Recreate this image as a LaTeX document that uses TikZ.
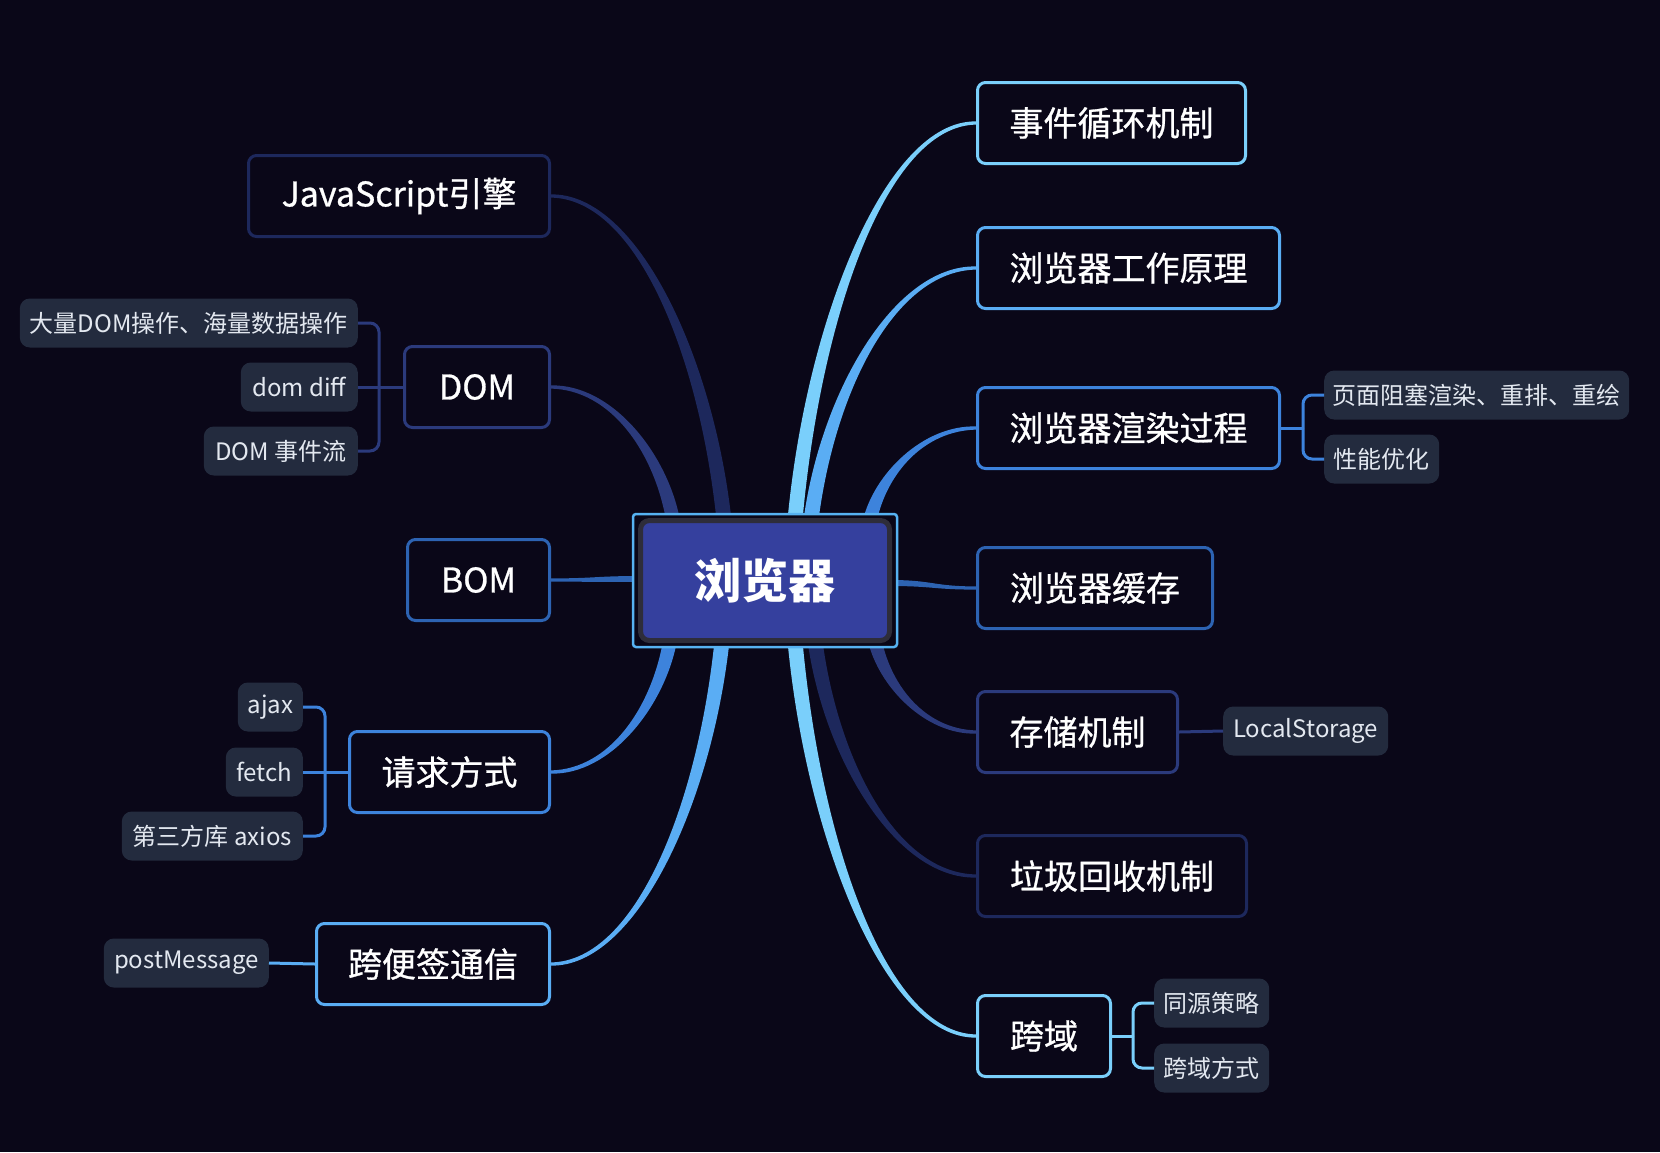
\documentclass[tikz,border=0pt]{standalone}
\usepackage{fontspec}
\setmainfont{Noto Sans CJK SC}
\usetikzlibrary{calc}
\definecolor{bg}{HTML}{0A0718}
\definecolor{cA}{HTML}{7ACFFB}
\definecolor{cB}{HTML}{5AADF4}
\definecolor{cC}{HTML}{3D83DC}
\definecolor{cD}{HTML}{2D63B2}
\definecolor{cE}{HTML}{2B3A7C}
\definecolor{cF}{HTML}{1D285C}
\definecolor{leaf}{HTML}{232B3E}
\definecolor{leaftext}{HTML}{E3E8F0}
\definecolor{framec}{HTML}{56B2F2}
\definecolor{rootring}{HTML}{2E2D3A}
\definecolor{rootfill}{HTML}{35409E}
% tapered branch: #1 start, #2 end, #3 colour, #4 start half-width, #5 sign
\newcommand\branchfill[5]{%
  \fill[#3] let \p1=(#1), \p2=(#2) in
    ({\x1-#4},\y1) .. controls ({\x1+0.1*(\x2-\x1)-0.95*#4},{\y1+0.5*(\y2-\y1)}) and ({\x2-0.5*(\x2-\x1)},{\y2+(#5)*3pt}) .. (\x2,{\y2+(#5)*1.6pt})
    -- (\x2,{\y2-(#5)*1.6pt}) .. controls ({\x2-0.5*(\x2-\x1)},{\y2-(#5)*3pt}) and ({\x1+0.1*(\x2-\x1)+0.95*#4},{\y1+0.5*(\y2-\y1)}) .. ({\x1+#4},\y1) -- cycle;}
% horizontal tapered branch
\newcommand\hbranchfill[4]{%
  \fill[#3] let \p1=(#1), \p2=(#2) in
    (\x1,{\y1+#4}) .. controls ({0.5*(\x1+\x2)},{\y1+#4}) and ({0.5*(\x1+\x2)},{\y2+1.6pt}) .. (\x2,{\y2+1.6pt})
    -- (\x2,{\y2-1.6pt}) .. controls ({0.5*(\x1+\x2)},{\y2-1.6pt}) and ({0.5*(\x1+\x2)},{\y1-#4}) .. (\x1,{\y1-#4}) -- cycle;}
\tikzset{
  mainbox/.style={draw=#1, line width=3pt, rounded corners=8pt, fill=bg, text=white,
    minimum height=81pt, inner sep=0pt, font=\fontsize{34pt}{40pt}\selectfont\addfontfeatures{FakeBold=0.8}},
  leafbox/.style={fill=leaf, rounded corners=10pt, text=leaftext, minimum height=49pt,
    inner sep=0pt, font=\fontsize{24pt}{28pt}\selectfont},
  brack/.style={draw=#1, line width=3pt},
}
\begin{document}
\begin{tikzpicture}[x=1pt,y=-1pt]
\useasboundingbox (0,0) rectangle (1660,1152);
\fill[bg] (0,0) rectangle (1660,1152);

% main nodes, right side
\node[mainbox=cA, minimum width=268, anchor=west] (ev) at (976,123) {事件循环机制};
\node[mainbox=cB, minimum width=302, anchor=west] (wk) at (976,268) {浏览器工作原理};
\node[mainbox=cC, minimum width=302, anchor=west] (rd) at (976,428) {浏览器渲染过程};
\node[mainbox=cD, minimum width=235, anchor=west] (ca) at (976,588) {浏览器缓存};
\node[mainbox=cE, minimum width=200, anchor=west] (st) at (976,732) {存储机制};
\node[mainbox=cF, minimum width=269, anchor=west] (gc) at (976,876) {垃圾回收机制};
\node[mainbox=cA, minimum width=133, anchor=west] (cd) at (976,1036) {跨域};
% main nodes, left side
\node[mainbox=cF, minimum width=301, anchor=east] (js) at (551,196) {JavaScript引擎};
\node[mainbox=cE, minimum width=145, anchor=east] (dom) at (551,387) {DOM};
\node[mainbox=cD, minimum width=142, anchor=east] (bom) at (551,580) {BOM};
\node[mainbox=cC, minimum width=200, anchor=east] (req) at (551,772) {请求方式};
\node[mainbox=cB, minimum width=233, anchor=east] (msg) at (551,964) {跨便签通信};

% leaf nodes
\node[leafbox, minimum width=338, anchor=east] (d1) at (358,323) {大量DOM操作、海量数据操作};
\node[leafbox, minimum width=117, anchor=east] (d2) at (358,387) {dom diff};
\node[leafbox, minimum width=154, anchor=east] (d3) at (358,451) {DOM 事件流};
\node[leafbox, minimum width=305, anchor=west] (r1) at (1324,395) {页面阻塞渲染、重排、重绘};
\node[leafbox, minimum width=115, anchor=west] (r2) at (1324,459) {性能优化};
\node[leafbox, minimum width=165, anchor=west] (ls) at (1223,731) {LocalStorage};
\node[leafbox, minimum width=65, anchor=east] (q1) at (303,707) {ajax};
\node[leafbox, minimum width=77, anchor=east] (q2) at (303,772) {fetch};
\node[leafbox, minimum width=181, anchor=east] (q3) at (303,836) {第三方库 axios};
\node[leafbox, minimum width=165, anchor=east] (pm) at (269,963) {postMessage};
\node[leafbox, minimum width=115, anchor=west] (x1) at (1154,1003) {同源策略};
\node[leafbox, minimum width=115, anchor=west] (x2) at (1154,1068) {跨域方式};

% start points on the central node
\coordinate (tdom) at (673,520);
\coordinate (tjs) at (724,520);
\coordinate (tev) at (795,520);
\coordinate (twk) at (811,520);
\coordinate (trd) at (870,520);
\coordinate (breq) at (670,641);
\coordinate (bmsg) at (722,641);
\coordinate (bcd) at (795,641);
\coordinate (bgc) at (815,641);
\coordinate (bst) at (875,641);
\coordinate (lbom) at (640,579);
\coordinate (rca) at (890,583);

% tapered branches
\branchfill{tjs}{js.east}{cF}{7.5pt}{-1}
\branchfill{tdom}{dom.east}{cE}{7pt}{-1}
\branchfill{tev}{ev.west}{cA}{7.5pt}{1}
\branchfill{twk}{wk.west}{cB}{7.5pt}{1}
\branchfill{trd}{rd.west}{cC}{7pt}{1}
\branchfill{breq}{req.east}{cC}{7pt}{1}
\branchfill{bmsg}{msg.east}{cB}{7.5pt}{1}
\branchfill{bcd}{cd.west}{cA}{7.5pt}{-1}
\branchfill{bgc}{gc.west}{cF}{7.5pt}{-1}
\branchfill{bst}{st.west}{cE}{7pt}{-1}
\hbranchfill{lbom}{bom.east}{cD}{3pt}
\hbranchfill{rca}{ca.west}{cD}{3pt}

% central node
\node[draw=framec, line width=2.5pt, fill=bg, rounded corners=3pt, minimum width=264, minimum height=133, inner sep=0pt] (frame) at (765,580.5) {};
\node[draw=rootring, line width=5pt, fill=rootfill, rounded corners=9pt, minimum width=249, minimum height=120, inner sep=0pt, text=white, font=\fontsize{47pt}{56pt}\selectfont\bfseries] (root) at (765,580.5) {浏览器};

% leaf brackets
\draw[brack=cE] (dom.west) -- ++(-24,0);
\draw[brack=cE, rounded corners=9pt] ($(dom.west)+(-24,0)$) |- (d1.east);
\draw[brack=cE] ($(dom.west)+(-24,0)$) -- (d2.east);
\draw[brack=cE, rounded corners=9pt] ($(dom.west)+(-24,0)$) |- (d3.east);
\draw[brack=cC] (rd.east) -- ++(22,0);
\draw[brack=cC, rounded corners=9pt] ($(rd.east)+(22,0)$) |- (r1.west);
\draw[brack=cC, rounded corners=9pt] ($(rd.east)+(22,0)$) |- (r2.west);
\draw[brack=cE] (st.east) -- (ls.west);
\draw[brack=cC] (req.west) -- ++(-23,0);
\draw[brack=cC, rounded corners=9pt] ($(req.west)+(-23,0)$) |- (q1.east);
\draw[brack=cC] ($(req.west)+(-23,0)$) -- (q2.east);
\draw[brack=cC, rounded corners=9pt] ($(req.west)+(-23,0)$) |- (q3.east);
\draw[brack=cB] (msg.west) -- (pm.east);
\draw[brack=cA] (cd.east) -- ++(21,0);
\draw[brack=cA, rounded corners=9pt] ($(cd.east)+(21,0)$) |- (x1.west);
\draw[brack=cA, rounded corners=9pt] ($(cd.east)+(21,0)$) |- (x2.west);
\end{tikzpicture}
\end{document}
